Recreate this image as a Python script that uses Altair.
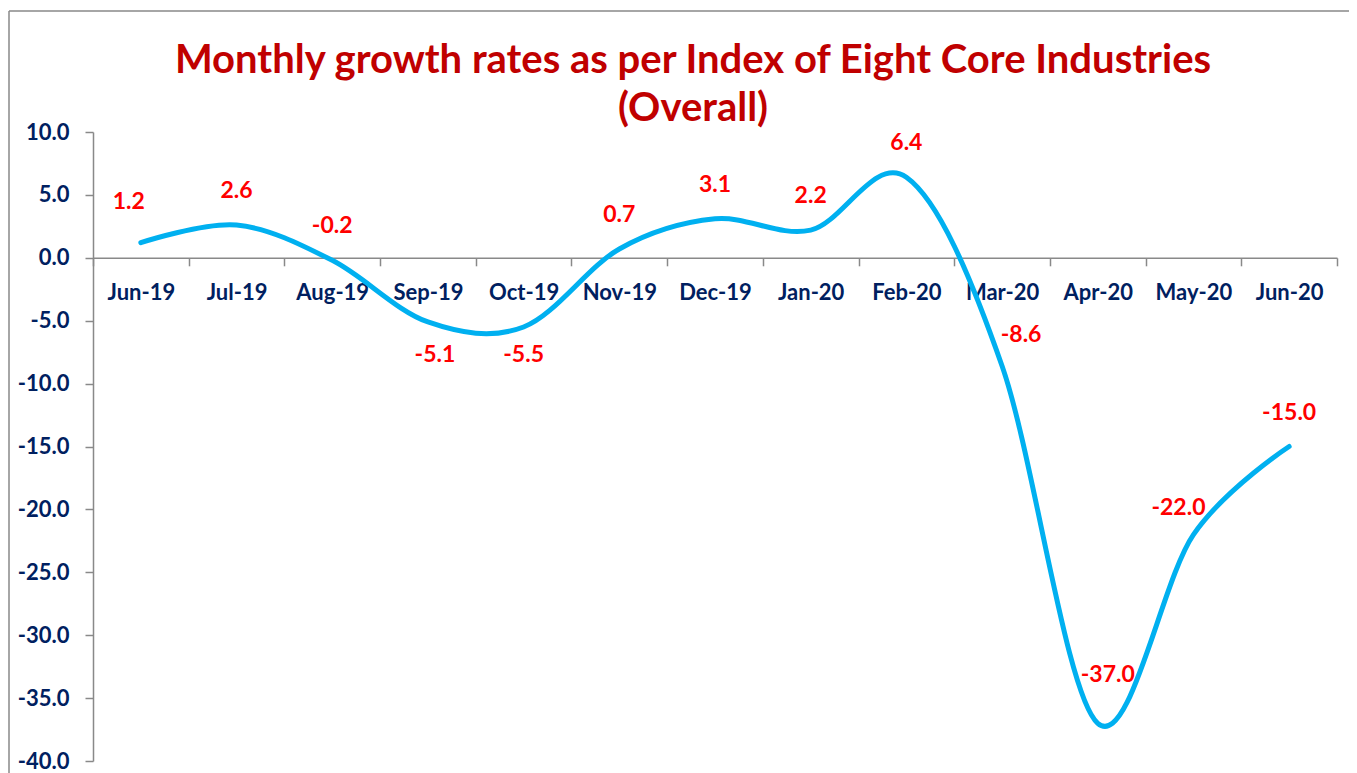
import altair as alt
import pandas as pd

months = ["Jun-19", "Jul-19", "Aug-19", "Sep-19", "Oct-19", "Nov-19", "Dec-19",
          "Jan-20", "Feb-20", "Mar-20", "Apr-20", "May-20", "Jun-20"]
growth = [1.2, 2.6, -0.2, -5.1, -5.5, 0.7, 3.1, 2.2, 6.4, -8.6, -37.0, -22.0, -15.0]
y_ticks = [10, 5, 0, -5, -10, -15, -20, -25, -30, -35, -40]
title_lines = ["Monthly growth rates as per Index of Eight Core Industries", "(Overall)"]

# label placement (pixel offsets from the point), default above
default_offset = (0, -34)
label_offsets = {
    "Jun-19": (-12, -41),
    "Sep-19": (7, 33),
    "Oct-19": (0, 28),
    "Mar-20": (19, -31),
    "Apr-20": (10, -48),
    "May-20": (-15, -27),
}

df = pd.DataFrame({"month": months, "growth": growth})

W, H = 1244, 629
FONT = "Lato"
NAVY = "#002060"
GRAY = "#898989"
HYPHEN = "replace(format(%s, '.1f'), '\u2212', '-')"

x_enc = alt.X(
    "month:N", sort=months, bandPosition=0.5,
    scale=alt.Scale(type="band", paddingInner=0, paddingOuter=0),
    axis=alt.Axis(title=None, orient="bottom", offset=-(H - H * 10 / 50),
                  labelPadding=17, tickBand="extent", labelAngle=0),
)
y_enc = alt.Y(
    "growth:Q", scale=alt.Scale(domain=[-40, 10], nice=False),
    axis=alt.Axis(title=None, values=y_ticks, labelExpr=HYPHEN % "datum.value",
                  labelPadding=16),
)

base = alt.Chart(df).transform_calculate(label=HYPHEN % "datum.growth")

line = base.mark_line(interpolate="cardinal", color="#00B0F0", strokeWidth=5,
                      strokeCap="round").encode(x=x_enc, y=y_enc)

text_style = dict(font=FONT, fontSize=23, fontWeight="bold", color="#FF0000",
                  baseline="middle")
layers = [line]
default_months = [m for m in months if m not in label_offsets]
layers.append(
    base.transform_filter(alt.FieldOneOfPredicate(field="month", oneOf=default_months))
    .mark_text(dx=default_offset[0], dy=default_offset[1], **text_style)
    .encode(x=x_enc, y=y_enc, text="label:N")
)
for m, (ddx, ddy) in label_offsets.items():
    layers.append(
        base.transform_filter(alt.datum.month == m)
        .mark_text(dx=ddx, dy=ddy, **text_style)
        .encode(x=x_enc, y=y_enc, text="label:N")
    )

frame_src = alt.Chart(pd.DataFrame({"k": [0]}))
left_border = frame_src.mark_rule(color=GRAY, strokeWidth=1.5).encode(
    x=alt.value(-84), y=alt.value(-121), y2=alt.value(H + 200))
top_border = frame_src.mark_rule(color=GRAY, strokeWidth=1.5).encode(
    x=alt.value(-84), x2=alt.value(W + 200), y=alt.value(-121))
title_style = dict(font=FONT, fontSize=40, fontWeight="bold", color="#C00000",
                   align="center", baseline="alphabetic")
title1 = frame_src.mark_text(text=title_lines[0], **title_style).encode(
    x=alt.value(600), y=alt.value(-59))
title2 = frame_src.mark_text(text=title_lines[1], **title_style).encode(
    x=alt.value(600), y=alt.value(-11))
layers = [left_border, top_border, title1, title2] + layers

chart = (
    alt.layer(*layers)
    .properties(
        width=W, height=H,
        autosize=alt.AutoSizeParams(type="none"),
        padding={"left": 85, "top": 124, "right": 12, "bottom": 13},
    )
    .configure_view(stroke="transparent")
    .configure_axis(
        labelFont=FONT, labelFontSize=22, labelFontWeight="bold", labelColor=NAVY,
        domainColor=GRAY, tickColor=GRAY, domainWidth=1.5, tickWidth=1.5, tickSize=8,
        grid=False,
    )
)

chart.save("out.html", embed_options={"renderer": "svg", "actions": False})
